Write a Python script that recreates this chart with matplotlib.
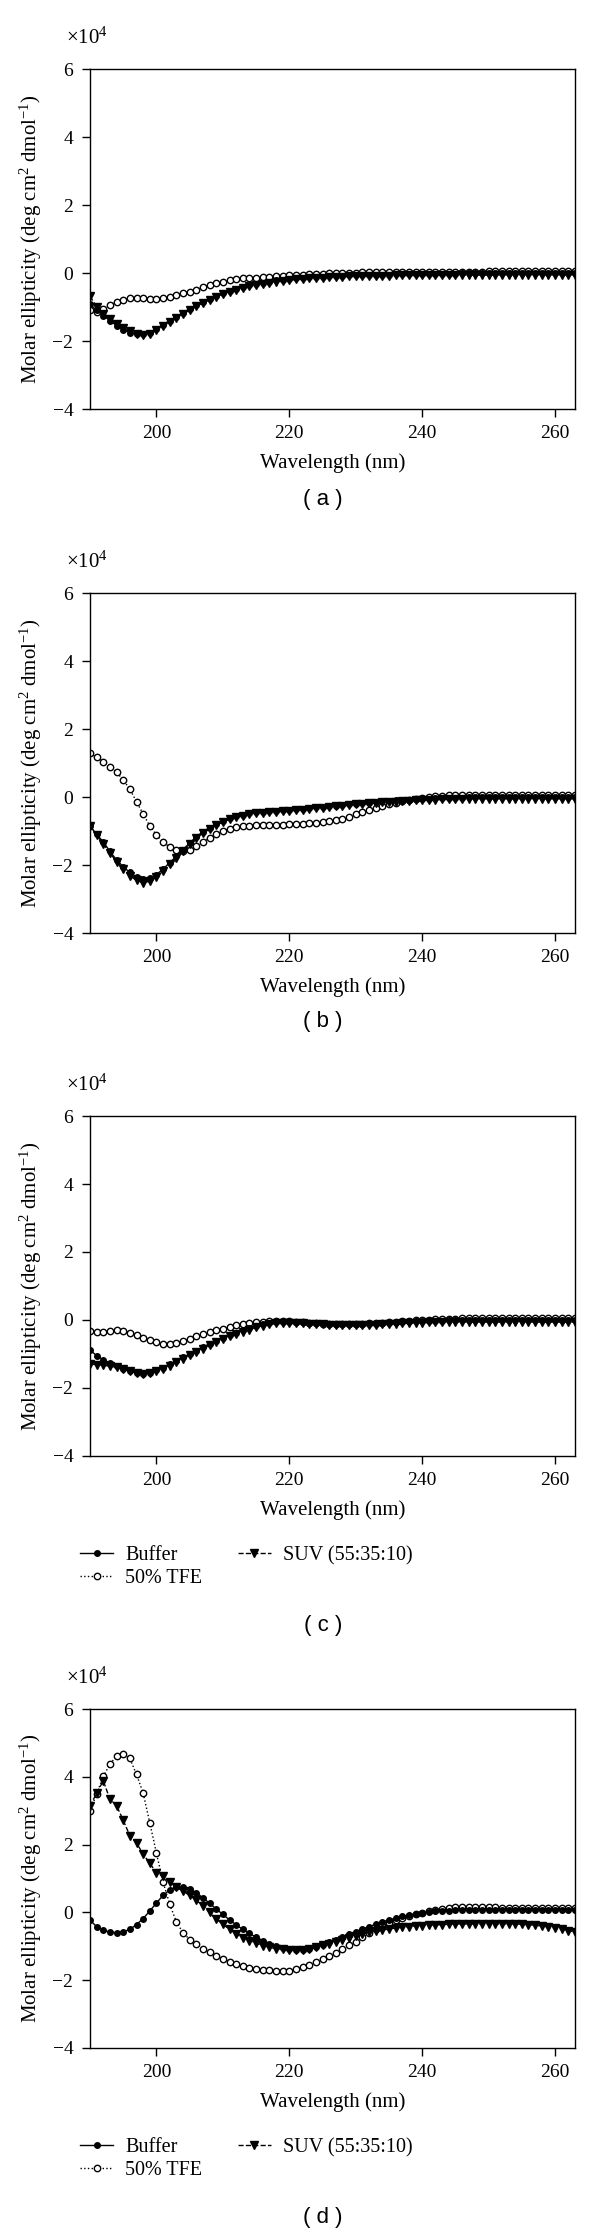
import numpy as np
import matplotlib.pyplot as plt

plt.rcParams['font.family'] = ['Liberation Serif', 'DejaVu Serif']
plt.rcParams['mathtext.fontset'] = 'custom'
plt.rcParams['mathtext.rm'] = 'Liberation Serif'
plt.rcParams['mathtext.it'] = 'Liberation Serif:italic'

# wavelength grid, 1 nm steps (190 - 263 nm)
wavelength = np.arange(190, 264)

# molar ellipticity, in units of 10^4 deg cm2 dmol-1
# (a)
buffer_a = [-0.92, -1.10, -1.25, -1.40, -1.55, -1.67, -1.75, -1.80, -1.80, -1.75,
            -1.65, -1.52, -1.40, -1.28, -1.17, -1.05, -0.95, -0.85, -0.75, -0.67,
            -0.60, -0.52, -0.46, -0.41, -0.36, -0.32, -0.28, -0.25, -0.22, -0.20,
            -0.18, -0.16, -0.14, -0.13, -0.12, -0.11, -0.10, -0.09, -0.08, -0.07,
            -0.07, -0.06, -0.06, -0.05, -0.05, -0.05, -0.04, -0.04, -0.04, -0.03,
            -0.03, -0.03, -0.02, -0.02, -0.02, -0.02, -0.01, -0.01, -0.01, -0.01,
            -0.01, 0.00, 0.00, 0.00, 0.00, 0.00, 0.00, 0.00, 0.00, 0.00,
            0.00, 0.00, 0.00, 0.00]
suv_a = [-0.68, -1.00, -1.20, -1.35, -1.50, -1.62, -1.72, -1.78, -1.82, -1.78,
         -1.68, -1.55, -1.43, -1.32, -1.20, -1.08, -0.98, -0.88, -0.79, -0.70,
         -0.62, -0.55, -0.49, -0.44, -0.39, -0.35, -0.31, -0.28, -0.25, -0.23,
         -0.21, -0.19, -0.17, -0.16, -0.15, -0.14, -0.13, -0.12, -0.11, -0.10,
         -0.10, -0.09, -0.09, -0.08, -0.08, -0.08, -0.07, -0.07, -0.07, -0.07,
         -0.06, -0.06, -0.06, -0.06, -0.06, -0.06, -0.06, -0.06, -0.06, -0.06,
         -0.06, -0.06, -0.05, -0.05, -0.05, -0.05, -0.05, -0.05, -0.05, -0.05,
         -0.05, -0.05, -0.05, -0.05]
tfe_a = [-1.10, -1.15, -1.05, -0.95, -0.85, -0.78, -0.74, -0.73, -0.74, -0.75,
         -0.75, -0.73, -0.70, -0.65, -0.60, -0.55, -0.49, -0.42, -0.35, -0.30,
         -0.25, -0.21, -0.18, -0.16, -0.15, -0.14, -0.13, -0.12, -0.10, -0.08,
         -0.07, -0.06, -0.05, -0.04, -0.03, -0.02, -0.01, 0.00, 0.00, 0.01,
         0.01, 0.02, 0.02, 0.02, 0.03, 0.03, 0.03, 0.03, 0.03, 0.04,
         0.04, 0.04, 0.04, 0.04, 0.04, 0.04, 0.04, 0.04, 0.04, 0.04,
         0.05, 0.05, 0.05, 0.05, 0.05, 0.05, 0.05, 0.05, 0.05, 0.05,
         0.05, 0.05, 0.05, 0.05]

# (b)
buffer_b = [-0.85, -1.10, -1.32, -1.60, -1.85, -2.05, -2.22, -2.35, -2.42, -2.38,
            -2.28, -2.12, -1.93, -1.74, -1.55, -1.35, -1.17, -1.02, -0.90, -0.80,
            -0.71, -0.63, -0.57, -0.52, -0.48, -0.45, -0.43, -0.41, -0.40, -0.39,
            -0.38, -0.36, -0.34, -0.32, -0.30, -0.28, -0.26, -0.25, -0.23, -0.22,
            -0.20, -0.18, -0.17, -0.15, -0.13, -0.12, -0.10, -0.09, -0.08, -0.07,
            -0.06, -0.05, -0.04, -0.03, -0.03, -0.02, -0.02, -0.01, -0.01, -0.01,
            0.00, 0.00, 0.00, 0.00, 0.00, 0.00, 0.00, 0.00, 0.00, 0.00,
            0.00, 0.00, 0.00, 0.00]
suv_b = [-0.85, -1.12, -1.38, -1.65, -1.90, -2.12, -2.32, -2.45, -2.52, -2.48,
         -2.35, -2.18, -1.98, -1.78, -1.58, -1.38, -1.20, -1.05, -0.93, -0.83,
         -0.74, -0.66, -0.60, -0.55, -0.51, -0.48, -0.46, -0.44, -0.43, -0.42,
         -0.41, -0.39, -0.37, -0.35, -0.33, -0.31, -0.29, -0.27, -0.26, -0.24,
         -0.22, -0.21, -0.19, -0.18, -0.16, -0.15, -0.14, -0.12, -0.11, -0.10,
         -0.09, -0.08, -0.08, -0.07, -0.07, -0.06, -0.06, -0.06, -0.05, -0.05,
         -0.05, -0.05, -0.05, -0.05, -0.05, -0.05, -0.05, -0.05, -0.05, -0.05,
         -0.05, -0.05, -0.05, -0.05]
tfe_b = [1.28, 1.17, 1.04, 0.89, 0.73, 0.50, 0.23, -0.14, -0.50, -0.85,
         -1.12, -1.33, -1.47, -1.56, -1.60, -1.55, -1.45, -1.32, -1.20, -1.10,
         -1.00, -0.93, -0.88, -0.85, -0.84, -0.83, -0.83, -0.82, -0.82, -0.81,
         -0.80, -0.79, -0.78, -0.76, -0.75, -0.73, -0.71, -0.69, -0.65, -0.58,
         -0.50, -0.43, -0.37, -0.32, -0.27, -0.22, -0.17, -0.12, -0.08, -0.05,
         -0.02, 0.00, 0.02, 0.04, 0.05, 0.05, 0.06, 0.06, 0.06, 0.06,
         0.06, 0.06, 0.06, 0.06, 0.06, 0.06, 0.06, 0.06, 0.06, 0.06,
         0.06, 0.06, 0.06, 0.06]

# (c)
buffer_c = [-0.88, -1.05, -1.17, -1.27, -1.36, -1.44, -1.51, -1.56, -1.58, -1.55,
            -1.48, -1.40, -1.30, -1.20, -1.10, -1.00, -0.90, -0.80, -0.70, -0.61,
            -0.52, -0.44, -0.37, -0.30, -0.24, -0.18, -0.13, -0.09, -0.06, -0.05,
            -0.05, -0.06, -0.07, -0.08, -0.09, -0.10, -0.11, -0.12, -0.12, -0.13,
            -0.13, -0.13, -0.12, -0.11, -0.10, -0.08, -0.07, -0.05, -0.04, -0.03,
            -0.03, -0.02, -0.02, -0.02, -0.01, -0.01, -0.01, -0.01, -0.01, 0.00,
            0.00, 0.00, 0.00, 0.00, 0.00, 0.00, 0.00, 0.00, 0.00, 0.00,
            0.00, 0.00, 0.00, 0.00]
suv_c = [-1.30, -1.31, -1.33, -1.36, -1.39, -1.44, -1.50, -1.55, -1.58, -1.57,
         -1.51, -1.43, -1.34, -1.24, -1.14, -1.04, -0.94, -0.84, -0.74, -0.65,
         -0.56, -0.48, -0.41, -0.34, -0.28, -0.22, -0.17, -0.13, -0.10, -0.08,
         -0.08, -0.09, -0.10, -0.11, -0.12, -0.13, -0.14, -0.15, -0.15, -0.16,
         -0.16, -0.16, -0.15, -0.14, -0.13, -0.12, -0.11, -0.10, -0.09, -0.08,
         -0.08, -0.07, -0.07, -0.07, -0.06, -0.06, -0.06, -0.06, -0.06, -0.06,
         -0.06, -0.06, -0.06, -0.06, -0.06, -0.06, -0.06, -0.06, -0.06, -0.06,
         -0.06, -0.06, -0.06, -0.06]
tfe_c = [-0.33, -0.35, -0.35, -0.33, -0.30, -0.32, -0.37, -0.45, -0.52, -0.60,
         -0.66, -0.70, -0.71, -0.68, -0.62, -0.55, -0.48, -0.42, -0.36, -0.30,
         -0.25, -0.20, -0.16, -0.12, -0.09, -0.07, -0.05, -0.04, -0.03, -0.03,
         -0.04, -0.05, -0.07, -0.08, -0.10, -0.11, -0.12, -0.12, -0.13, -0.12,
         -0.12, -0.11, -0.10, -0.09, -0.08, -0.06, -0.05, -0.03, -0.02, -0.01,
         0.00, 0.01, 0.02, 0.03, 0.04, 0.04, 0.05, 0.05, 0.05, 0.05,
         0.05, 0.05, 0.05, 0.05, 0.05, 0.05, 0.05, 0.05, 0.05, 0.05,
         0.05, 0.05, 0.05, 0.05]

# (d)
buffer_d = [-0.23, -0.42, -0.53, -0.58, -0.60, -0.57, -0.50, -0.36, -0.18, 0.04,
            0.28, 0.50, 0.67, 0.76, 0.76, 0.70, 0.58, 0.43, 0.27, 0.10,
            -0.06, -0.22, -0.37, -0.50, -0.62, -0.73, -0.83, -0.92, -0.99, -1.05,
            -1.09, -1.11, -1.11, -1.08, -1.02, -0.95, -0.87, -0.80, -0.72, -0.65,
            -0.57, -0.49, -0.42, -0.35, -0.28, -0.22, -0.17, -0.12, -0.08, -0.04,
            -0.01, 0.01, 0.03, 0.04, 0.05, 0.06, 0.06, 0.07, 0.07, 0.07,
            0.07, 0.07, 0.07, 0.06, 0.06, 0.06, 0.06, 0.06, 0.06, 0.06,
            0.06, 0.06, 0.06, 0.06]
suv_d = [3.13, 3.52, 3.88, 3.34, 3.15, 2.72, 2.26, 2.05, 1.72, 1.45,
         1.17, 1.07, 0.90, 0.74, 0.63, 0.50, 0.36, 0.19, 0.00, -0.20,
         -0.35, -0.50, -0.64, -0.75, -0.83, -0.91, -0.98, -1.03, -1.07, -1.09,
         -1.10, -1.11, -1.10, -1.08, -1.03, -0.97, -0.92, -0.87, -0.82, -0.76,
         -0.70, -0.64, -0.59, -0.55, -0.52, -0.49, -0.46, -0.44, -0.42, -0.40,
         -0.39, -0.38, -0.37, -0.36, -0.35, -0.34, -0.34, -0.34, -0.34, -0.34,
         -0.34, -0.34, -0.34, -0.34, -0.34, -0.35, -0.36, -0.38, -0.40, -0.43,
         -0.46, -0.50, -0.54, -0.58]
tfe_d = [2.98, 3.50, 4.01, 4.38, 4.60, 4.68, 4.54, 4.07, 3.52, 2.64,
         1.75, 0.89, 0.24, -0.28, -0.60, -0.80, -0.94, -1.07, -1.18, -1.28,
         -1.37, -1.45, -1.52, -1.58, -1.63, -1.67, -1.69, -1.71, -1.72, -1.73,
         -1.72, -1.68, -1.62, -1.55, -1.47, -1.38, -1.29, -1.19, -1.08, -0.97,
         -0.86, -0.74, -0.62, -0.50, -0.40, -0.31, -0.23, -0.16, -0.10, -0.05,
         -0.01, 0.03, 0.07, 0.10, 0.13, 0.15, 0.16, 0.17, 0.17, 0.16,
         0.15, 0.15, 0.14, 0.14, 0.14, 0.13, 0.13, 0.13, 0.13, 0.13,
         0.13, 0.13, 0.13, 0.13]

x_ticks = [200, 220, 240, 260]
y_ticks = [-4, -2, 0, 2, 4, 6]
labels = ['Buffer', '50% TFE', 'SUV (55:35:10)']

W, H = 600, 2232
fig = plt.figure(figsize=(W / 100, H / 100), dpi=100)


def fy(y):
    return 1 - y / H


def panel(top, bottom, buf, suv, tfe, tag, cap_y, legend=False):
    ax = fig.add_axes([90 / W, fy(bottom), 485 / W, (bottom - top) / H])
    h_tfe, = ax.plot(wavelength, tfe, ':', color='black', lw=1, marker='o', ms=4.6,
                     mfc='white', mec='black', mew=1.0)
    h_buf, = ax.plot(wavelength, buf, '-', color='black', lw=1, marker='o', ms=4.0)
    h_suv, = ax.plot(wavelength, suv, '--', color='black', lw=1, marker='v', ms=5.8)

    ax.set_xlim(190, 263)
    ax.set_ylim(-4, 6)
    ax.set_xticks(x_ticks)
    ax.set_yticks(y_ticks)
    ax.tick_params(direction='out', length=6, width=1, labelsize=14, top=False, right=False)
    ax.tick_params(axis='x', pad=5.5)
    ax.tick_params(axis='y', pad=6)
    for s in ax.spines.values():
        s.set_linewidth(1)

    ax.set_xlabel('Wavelength (nm)', fontsize=15)
    ax.xaxis.set_label_coords(0.5, -44 / (bottom - top))
    ax.set_ylabel('Molar ellipticity (deg cm$^{2}$ dmol$^{-1}$)', fontsize=15)
    ax.yaxis.set_label_coords(-0.095, 0.5)

    fig.text(66 / W, fy(top - 31), '×10$^{4}$', fontsize=15, ha='left', va='center')
    fig.text(323 / W, fy(cap_y), tag, family=['Liberation Sans', 'DejaVu Sans'],
             fontsize=16, ha='center', va='center')

    if legend:
        fig.legend([h_buf, h_tfe, h_suv], labels, ncol=2, frameon=False, fontsize=14.5,
                   loc='upper left', bbox_to_anchor=(80 / W, fy(bottom + 90)),
                   handlelength=1.65, handletextpad=0.6, columnspacing=1.75,
                   labelspacing=0.2, borderpad=0, borderaxespad=0)
    return ax


panel(69, 409, buffer_a, suv_a, tfe_a, '( a )', 499)
panel(593, 933, buffer_b, suv_b, tfe_b, '( b )', 1021)
panel(1116, 1456, buffer_c, suv_c, tfe_c, '( c )', 1625, legend=True)
panel(1709, 2048, buffer_d, suv_d, tfe_d, '( d )', 2217, legend=True)

plt.savefig('out.png', dpi=100)
